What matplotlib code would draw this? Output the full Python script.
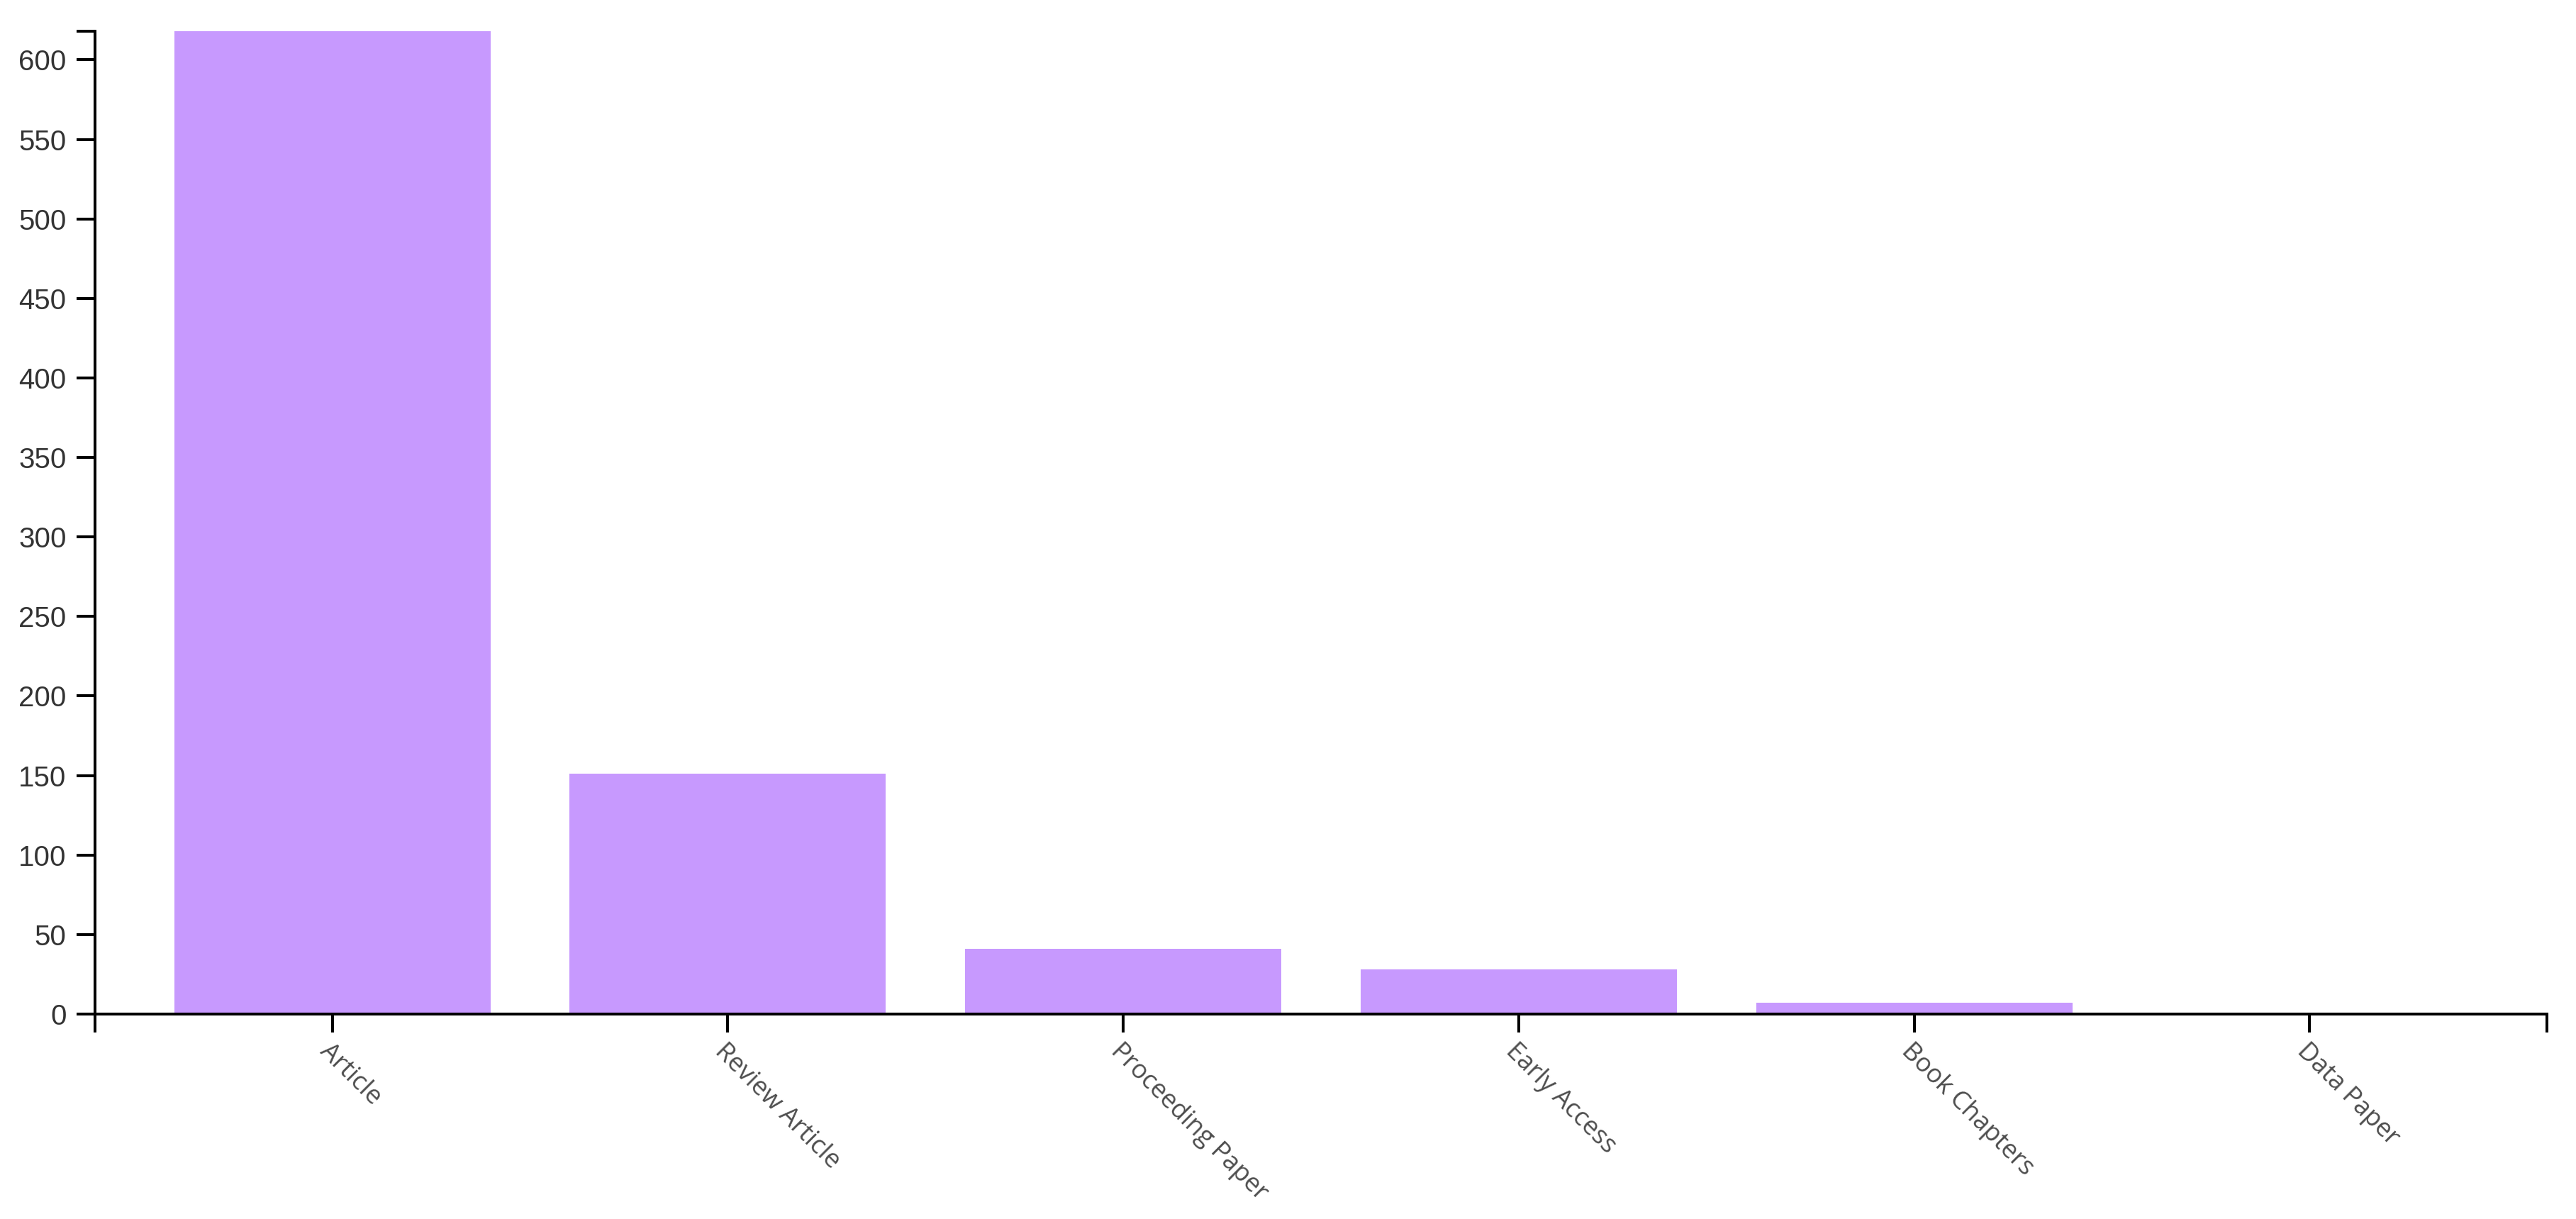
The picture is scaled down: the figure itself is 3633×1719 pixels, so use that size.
import numpy as np
import matplotlib
matplotlib.use("Agg")
import matplotlib.pyplot as plt

# ==========================================
# DADOS
# ==========================================

tipos = ["Article", "Review Article", "Proceeding Paper",
         "Early Access", "Book Chapters", "Data Paper"]
quantidades = [618, 151, 41, 28, 7, 1]

y_ticks = list(range(0, 601, 50))

# ==========================================
# ESTILO
# ==========================================

COR_BARRA = "#c799fe"
COR_EIXO = "#000000"
LW = 2.9

W, H = 3633, 1719
fig = plt.figure(figsize=(W / 100, H / 100), dpi=100)
fig.patch.set_facecolor("white")

esq, dir_ = 134 / W, 3592 / W
base, topo = 1430 / H, 44 / H
ax = fig.add_axes([esq, 1 - base, dir_ - esq, base - topo])

x = np.arange(len(tipos))
ax.bar(x, quantidades, width=0.8, color=COR_BARRA, zorder=1)

ax.set_xlim(-0.6, len(tipos) - 0.4)
ax.set_ylim(0, max(quantidades))

for lado in ["top", "right"]:
    ax.spines[lado].set_visible(False)
for lado in ["left", "bottom"]:
    ax.spines[lado].set_linewidth(LW)
    ax.spines[lado].set_color(COR_EIXO)
    ax.spines[lado].set_zorder(3)

ax.set_yticks(y_ticks)
ax.set_yticklabels([str(v) for v in y_ticks], fontfamily="Liberation Sans",
                   fontsize=29, color="#333333")
ax.set_xticks(x)
ax.set_xticklabels(tipos, rotation=-45, ha="left", va="top",
                   rotation_mode="anchor", fontfamily="Open Sans",
                   fontsize=26, color="#4d4d4d")

# ticks externos nas pontas dos eixos (estilo d3)
ax.set_xticks([-0.6, len(tipos) - 0.4], minor=True)
ax.set_yticks([max(quantidades)], minor=True)

ax.tick_params(axis="both", which="both", length=19, width=LW,
               color=COR_EIXO, direction="out")
ax.tick_params(axis="y", which="major", pad=10)
ax.tick_params(axis="x", which="major", pad=6)

plt.savefig("out.png", dpi=100, facecolor="white")
plt.close()
